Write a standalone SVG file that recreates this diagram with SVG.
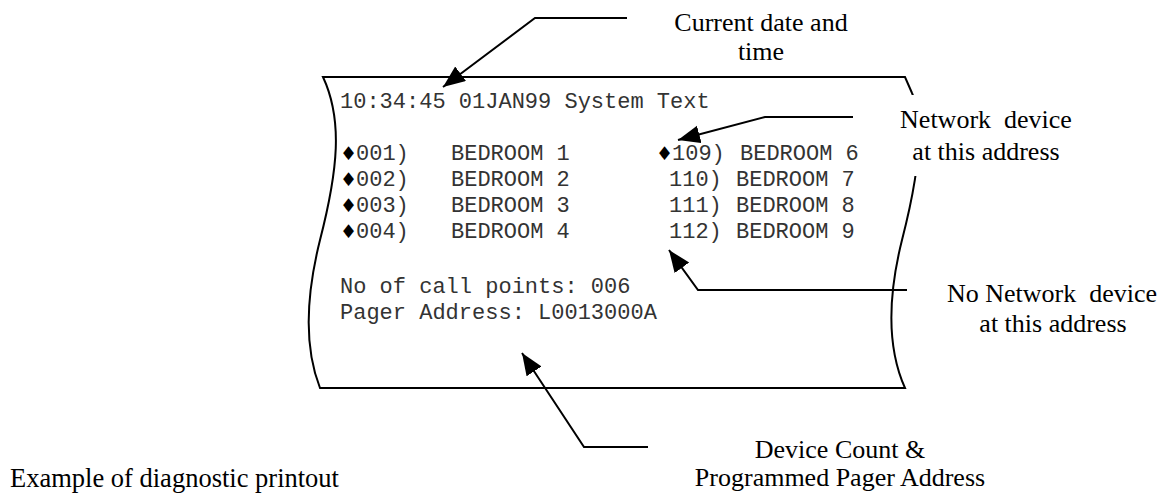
<svg xmlns="http://www.w3.org/2000/svg" width="1169" height="494" viewBox="0 0 1169 494">
<defs>
<style>
.mono{font-family:"Liberation Mono","Courier New",monospace;font-size:22px;fill:#333}
.dia{font-family:"DejaVu Sans",sans-serif;font-size:19px;fill:#000}
.lbl{font-family:"Liberation Serif","Times New Roman",serif;font-size:26px;fill:#000;text-anchor:middle}
.edge{fill:none;stroke:#000;stroke-width:2}
.conn{fill:none;stroke:#000;stroke-width:2}
</style>
<marker id="ah" markerUnits="userSpaceOnUse" markerWidth="24" markerHeight="20" refX="22" refY="9" orient="auto">
<path d="M0,0 L22,9 L0,18 z" fill="#000"/>
</marker>
</defs>
<rect width="1169" height="494" fill="#fff"/>
<g id="paper">
<path class="edge" d="M323,77 C343,120 338,170 320,240 C305,300 305,350 320,388 L905,388 C888,350 887,300 902,240 C920,170 925,120 912,93 L905,77 Z"/>
</g>
<g id="printout">
<text class="mono" x="340" y="108">10:34:45 01JAN99 System Text</text>
<text class="dia" x="340" y="160">♦</text><text class="mono" x="356" y="160">001)</text><text class="mono" x="451" y="160">BEDROOM 1</text>
<text class="dia" x="340" y="186">♦</text><text class="mono" x="356" y="186">002)</text><text class="mono" x="451" y="186">BEDROOM 2</text>
<text class="dia" x="340" y="212">♦</text><text class="mono" x="356" y="212">003)</text><text class="mono" x="451" y="212">BEDROOM 3</text>
<text class="dia" x="340" y="238">♦</text><text class="mono" x="356" y="238">004)</text><text class="mono" x="451" y="238">BEDROOM 4</text>
<text class="dia" x="656" y="160">♦</text><text class="mono" x="672" y="160">109)</text><text class="mono" x="740" y="160">BEDROOM 6</text>
<text class="mono" x="669" y="186">110)</text><text class="mono" x="736" y="186">BEDROOM 7</text>
<text class="mono" x="669" y="212">111)</text><text class="mono" x="736" y="212">BEDROOM 8</text>
<text class="mono" x="669" y="238">112)</text><text class="mono" x="736" y="238">BEDROOM 9</text>
<text class="mono" x="340" y="293">No of call points: 006</text>
<text class="mono" x="340" y="319">Pager Address: L0013000A</text>
</g>
<g id="label-date">
<text class="lbl" x="761" y="31">Current date and</text>
<text class="lbl" x="761" y="60">time</text>
</g>
<g id="label-network">
<rect x="896" y="95" width="190" height="81" fill="#fff"/>
<text class="lbl" x="986" y="128" xml:space="preserve">Network  device</text>
<text class="lbl" x="986" y="160">at this address</text>
</g>
<g id="label-nonetwork">
<text class="lbl" x="1052" y="302" xml:space="preserve">No Network  device</text>
<text class="lbl" x="1053" y="332">at this address</text>
</g>
<g id="label-count">
<text class="lbl" x="840" y="458">Device Count &amp;</text>
<text class="lbl" x="840" y="486">Programmed Pager Address</text>
</g>
<g id="caption">
<text x="10" y="487" style="font-family:'Liberation Serif','Times New Roman',serif;font-size:26.5px;fill:#000">Example of diagnostic printout</text>
</g>
<g id="connectors">
<path class="conn" d="M627,18 H535 L443,87" marker-end="url(#ah)"/>
<path class="conn" d="M853,117 H765 L678,140" marker-end="url(#ah)"/>
<path class="conn" d="M907,290 H698 L669,250" marker-end="url(#ah)"/>
<path class="conn" d="M648,447 H584 L522,353" marker-end="url(#ah)"/>
</g>
</svg>
